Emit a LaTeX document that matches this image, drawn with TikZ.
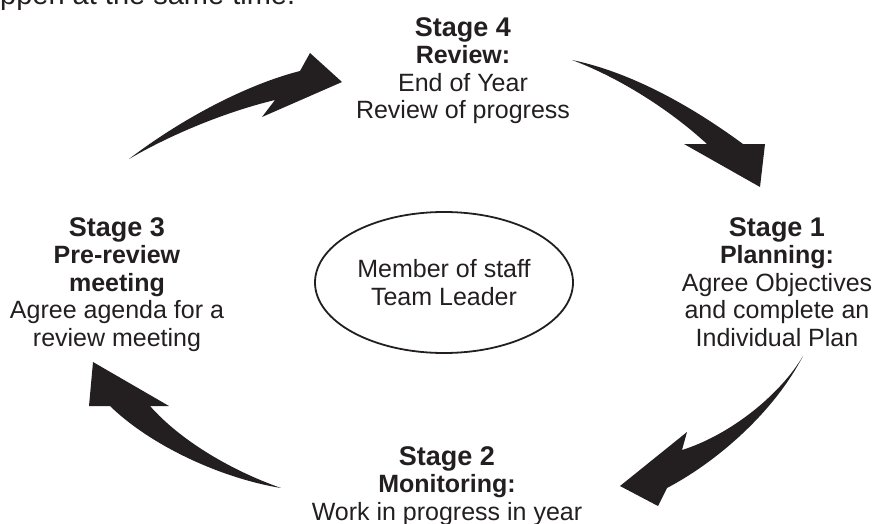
\documentclass[tikz,border=0pt]{standalone}
\usepackage{xcolor}
\usepackage{fontspec}
\setmainfont{Liberation Sans}
\usepackage{tikz}
\usetikzlibrary{shapes.geometric}
\definecolor{ink}{HTML}{231F20}
\newcommand{\stagehead}[1]{{\fontsize{27}{27.5}\selectfont\bfseries #1}}

\begin{document}
\begin{tikzpicture}[x=1pt, y=-1pt, line join=round,
  stagetext/.style={align=center, inner sep=0pt, anchor=north, text=ink,
    font=\fontsize{25}{27.5}\selectfont},
  blockarrow/.style={fill=ink, draw=none}]
  \useasboundingbox (0,0) rectangle (875,524);
  \clip (0,0) rectangle (875,524);
  \node[anchor=base west, inner sep=0pt, text=ink,
    font=\fontsize{29}{32}\selectfont] (cut) at (0,5) {ppen at the same time.};
  % stages round the circle
  \node[stagetext] (s4) at (463,17)
    {\stagehead{Stage 4}\\ \textbf{Review:}\\ End of Year\\ Review of progress};
  \node[stagetext] (s1) at (777,217)
    {\stagehead{Stage 1}\\ \textbf{Planning:}\\ Agree Objectives\\ and complete an\\ Individual Plan};
  \node[stagetext] (s2) at (447,446)
    {\stagehead{Stage 2}\\ \textbf{Monitoring:}\\ Work in progress in year};
  \node[stagetext] (s3) at (117,217)
    {\stagehead{Stage 3}\\ \textbf{Pre-review}\\ \textbf{meeting}\\ Agree agenda for a\\ review meeting};
  \node[ellipse, draw=ink, line width=1.8pt, minimum width=258pt, minimum height=141pt,
    align=center, text=ink, font=\fontsize{25}{27.5}\selectfont] (staff) at (444,282.5)
    {Member of staff\\ Team Leader};
  % block arrows
  \fill[blockarrow] (129,159) .. controls (180,120) and (245,85) .. (300,71)
    -- (310,53) -- (342,82) -- (262,117) -- (275,100)
    .. controls (225,112) and (170,135) .. (129,159) -- cycle;
  \fill[blockarrow] (572,60) .. controls (630,72) and (690,105) .. (743,144)
    -- (765,144) -- (760,187) -- (684,144) -- (707,144)
    .. controls (670,110) and (620,78) .. (572,60) -- cycle;
  \fill[blockarrow] (803,356) .. controls (780,395) and (730,435) .. (682,450)
    -- (687,432) -- (620,486) -- (658,506) -- (667,488)
    .. controls (720,460) and (775,410) .. (803,356) -- cycle;
  \fill[blockarrow] (281,488) .. controls (230,470) and (180,440) .. (150,406)
    -- (169,406) -- (93,362) -- (89,406) -- (110,406)
    .. controls (150,445) and (220,478) .. (281,488) -- cycle;
\end{tikzpicture}
\end{document}
